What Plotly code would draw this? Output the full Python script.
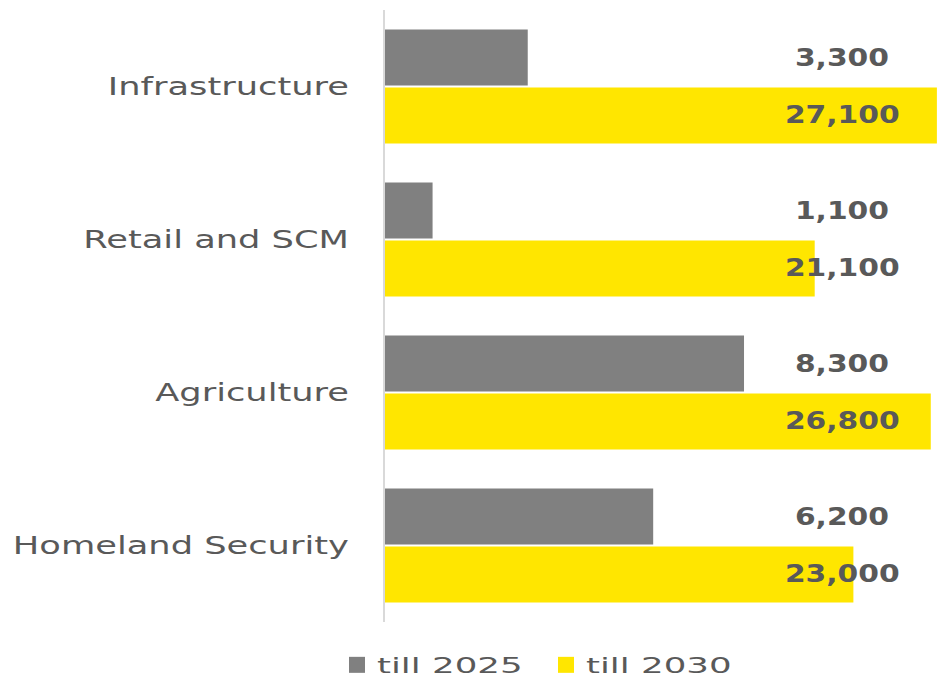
import plotly.graph_objects as go

# Sectors and projected figures
categories = ["Infrastructure", "Retail and SCM", "Agriculture", "Homeland Security"]
till_2025 = [3300, 1100, 8300, 6200]
till_2030 = [27100, 21100, 26800, 23000]
series_names = ["till 2025", "till 2030"]

GRAY = "#808080"
YELLOW = "#FFE600"
TEXT = "#595959"
FONT = "DejaVu Sans"

bar_w = 0.366

fig = go.Figure()

fig.add_trace(go.Bar(
    y=categories, x=till_2025, orientation="h", name=series_names[0],
    marker=dict(color=GRAY, line=dict(width=0)),
    width=bar_w, offset=-bar_w - 0.006,
    xaxis="x2", yaxis="y", showlegend=False,
))
fig.add_trace(go.Bar(
    y=categories, x=till_2030, orientation="h", name=series_names[1],
    marker=dict(color=YELLOW, line=dict(width=0)),
    width=bar_w, offset=0.006,
    xaxis="x", yaxis="y", showlegend=False,
))

# Legend entries with larger square swatches
for name, color in zip(series_names, [GRAY, YELLOW]):
    fig.add_trace(go.Scatter(
        x=[None], y=[None], mode="markers", name=name,
        marker=dict(symbol="square", size=16, color=color),
        xaxis="x", yaxis="y",
    ))

# Value labels in a column on the right, centred on each bar
label_x = 0.819
label_font = dict(family=FONT, size=24, color=TEXT, weight="bold")
for i, cat in enumerate(categories):
    fig.add_annotation(
        x=label_x, xref="paper", y=i - bar_w / 2 - 0.006, yref="y",
        text=f"{till_2025[i]:,}", showarrow=False, xanchor="center", yanchor="middle",
        font=label_font,
    )
    fig.add_annotation(
        x=label_x, xref="paper", y=i + bar_w / 2 + 0.006, yref="y",
        text=f"{till_2030[i]:,}", showarrow=False, xanchor="center", yanchor="middle",
        font=label_font,
    )

fig.update_layout(
    width=943, height=680,
    margin=dict(l=385, r=0, t=10, b=58, autoexpand=False),
    paper_bgcolor="white", plot_bgcolor="white",
    barmode="overlay",
    showlegend=True,
    legend=dict(
        orientation="h", xref="container", x=0.579, xanchor="center",
        yref="container", y=0.022, yanchor="middle",
        font=dict(family=FONT, size=22, color=TEXT),
        itemwidth=30, entrywidth=164, traceorder="normal",
    ),
    xaxis=dict(range=[0, 27400], visible=False, fixedrange=True),
    xaxis2=dict(range=[0, 12900], overlaying="x", visible=False, fixedrange=True),
    yaxis=dict(
        categoryorder="array", categoryarray=categories,
        range=[3.5, -0.5],
        showline=True, linecolor="#d9d9d9", linewidth=2,
        showgrid=False, zeroline=False, ticks="",
        ticklabelstandoff=29,
        tickfont=dict(family=FONT, size=25, color=TEXT),
    ),
)

# Wide lettering: stretch label text horizontally about its anchor point
stretch_js = """
(function () {
  var gd = document.getElementById('{plot_id}');
  function stretch(sel, s, mode) {
    gd.querySelectorAll(sel).forEach(function (t) {
      if (t.getAttribute('data-stretched')) return;
      var b = t.getBBox();
      var ax = mode === 'end' ? b.x + b.width : (mode === 'middle' ? b.x + b.width / 2 : b.x);
      var tr = t.getAttribute('transform') || '';
      t.setAttribute('transform', tr + ' translate(' + ax + ',0) scale(' + s + ',1) translate(' + (-ax) + ',0)');
      t.setAttribute('data-stretched', '1');
    });
  }
  function widen() {
    stretch('.ytick text', 1.41, 'end');
    stretch('.annotation-text', 1.24, 'middle');
    stretch('.legendtext', 1.62, 'start');
  }
  widen();
  gd.on('plotly_afterplot', widen);
})();
"""

fig.write_html("out.html", post_script=stretch_js)
